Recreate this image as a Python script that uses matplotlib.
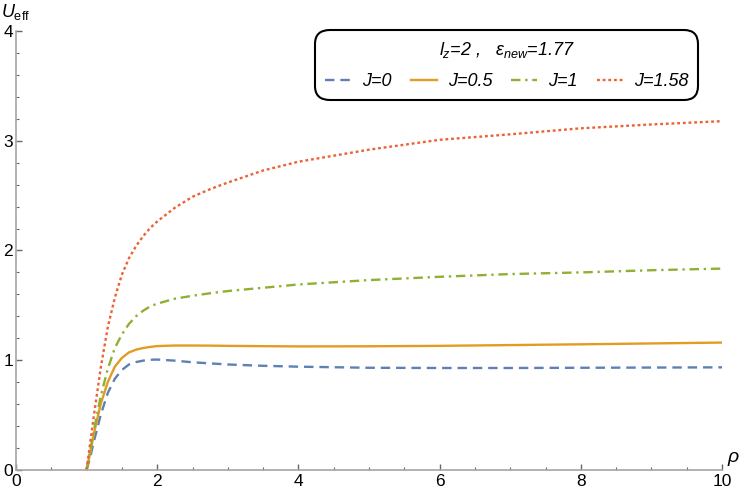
import matplotlib.pyplot as plt
from matplotlib.ticker import MultipleLocator

plt.rcParams['font.family'] = ['Liberation Sans', 'DejaVu Sans']
plt.rcParams['mathtext.fontset'] = 'custom'
plt.rcParams['mathtext.rm'] = 'Liberation Sans'
plt.rcParams['mathtext.it'] = 'Liberation Sans:italic'

# rho grid and U_eff for each J
rho = [1.0, 1.05, 1.1, 1.2, 1.3, 1.4, 1.5, 1.6, 1.7, 1.8, 1.9, 2.0, 2.25, 2.5, 2.75,
       3.0, 3.5, 4.0, 5.0, 6.0, 7.0, 8.0, 9.0, 10.0]
u_j0 = [0, 0.11, 0.25, 0.50, 0.70, 0.83, 0.91, 0.96, 0.982, 0.995, 1.003, 1.005, 0.995,
        0.98, 0.97, 0.96, 0.948, 0.94, 0.93, 0.928, 0.928, 0.93, 0.932, 0.934]
u_j05 = [0, 0.15, 0.32, 0.60, 0.80, 0.94, 1.02, 1.07, 1.095, 1.11, 1.12, 1.128, 1.133,
         1.133, 1.132, 1.13, 1.127, 1.125, 1.126, 1.13, 1.137, 1.144, 1.152, 1.16]
u_j1 = [0, 0.17, 0.35, 0.67, 0.92, 1.11, 1.235, 1.33, 1.40, 1.45, 1.49, 1.515, 1.56,
        1.587, 1.61, 1.63, 1.66, 1.69, 1.73, 1.76, 1.785, 1.80, 1.82, 1.835]
u_j158 = [0, 0.24, 0.48, 0.93, 1.30, 1.57, 1.78, 1.93, 2.04, 2.13, 2.205, 2.265, 2.39,
          2.49, 2.56, 2.62, 2.73, 2.81, 2.92, 3.01, 3.06, 3.115, 3.15, 3.18]

labels = ['J=0', 'J=0.5', 'J=1', 'J=1.58']
colors = ['#5E81B5', '#E19C24', '#8FB032', '#EB6235']
styles = [(0, (4, 2.5)), '-', (0, (4, 2, 1, 2)), (0, (1.2, 1.2))]

fig = plt.figure(figsize=(7.47, 4.94), dpi=100)
ax = fig.add_axes([16 / 747, 1 - 469.7 / 494, 706 / 747, 438.4 / 494])

for y, lab, c, ls in zip([u_j0, u_j05, u_j1, u_j158], labels, colors, styles):
    ax.plot(rho, y, color=c, linestyle=ls, linewidth=1.7, label=lab)

ax.set_xlim(0, 10)
ax.set_ylim(0, 4)
for s in ['top', 'right']:
    ax.spines[s].set_visible(False)
for s in ['left', 'bottom']:
    ax.spines[s].set_color('#a6a6a6')
    ax.spines[s].set_linewidth(1.2)

ax.xaxis.set_major_locator(MultipleLocator(2))
ax.xaxis.set_minor_locator(MultipleLocator(0.5))
ax.yaxis.set_major_locator(MultipleLocator(1))
ax.yaxis.set_minor_locator(MultipleLocator(0.2))
ax.tick_params(which='both', direction='in', color='#666666', labelsize=12.5, pad=3)
ax.tick_params(axis='y', pad=2)
ax.tick_params(which='major', length=4, width=1)
ax.tick_params(which='minor', length=2.5, width=0.8)

fig.text(1 / 747, 1 - 12 / 494, r'$U_{\rm eff}$', fontsize=13, va='center', ha='left')
fig.text(727 / 747, 1 - 459 / 494, r'$\rho$', fontsize=14, va='center', ha='left')

leg = ax.legend(loc='upper right', bbox_to_anchor=(698 / 747, 1 - 30 / 494),
                bbox_transform=fig.transFigure, ncol=4, borderaxespad=0,
                title=r'$l_z$=2 ,   $\varepsilon_{new}$=1.77',
                prop={'style': 'italic', 'size': 13},
                title_fontproperties={'style': 'italic', 'size': 13},
                handlelength=1.45, columnspacing=1.05, handletextpad=0.6,
                borderpad=0.55, labelspacing=0.75, fancybox=True, framealpha=1)
leg.get_frame().set_edgecolor('black')
leg.get_frame().set_linewidth(1.5)
leg.get_frame().set_boxstyle('round', pad=0, rounding_size=0.8)

fig.savefig('out.png', dpi=100)
